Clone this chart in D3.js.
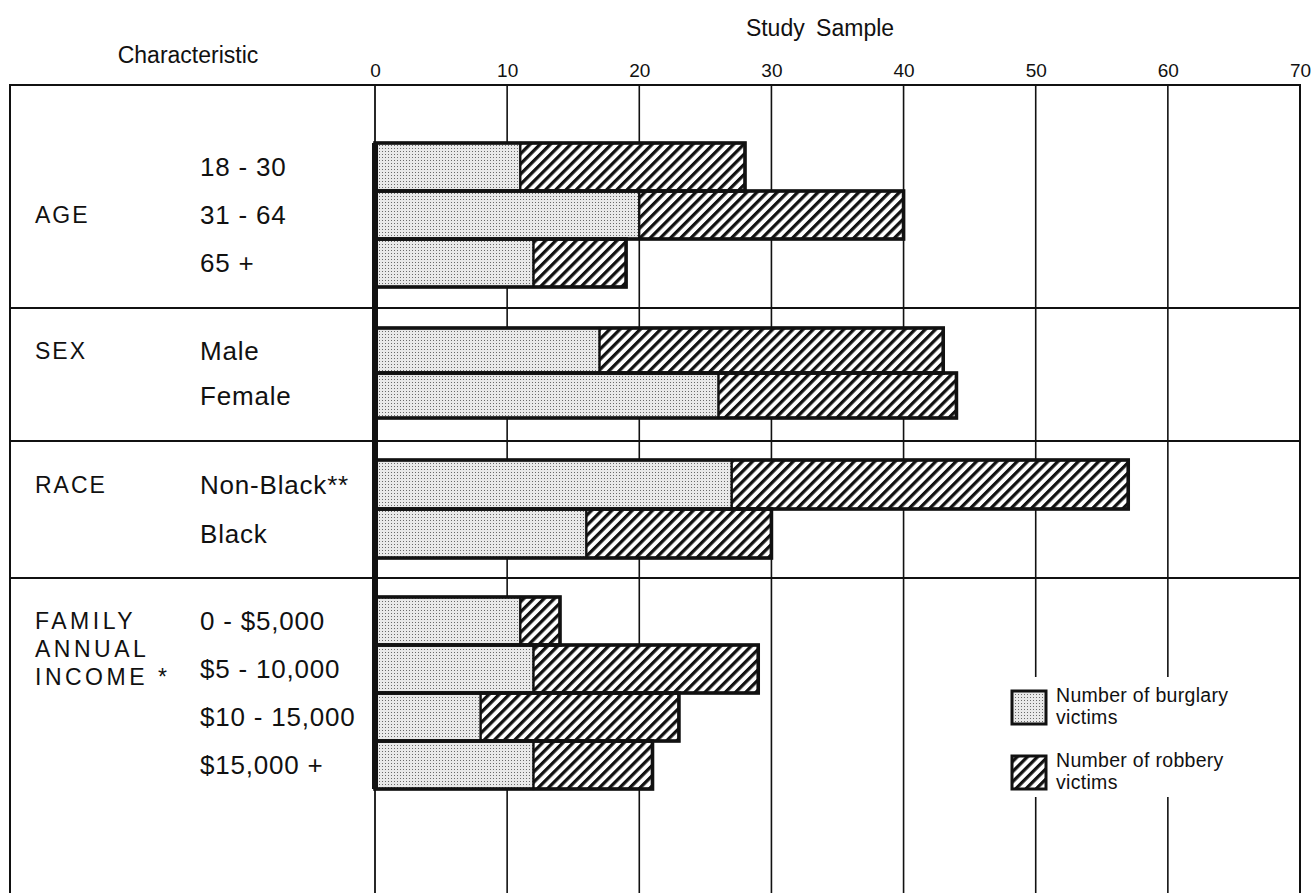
<!DOCTYPE html>
<html><head><meta charset="utf-8">
<script src="https://cdn.jsdelivr.net/npm/d3@7"></script>
<style>
html,body{margin:0;padding:0;background:#fff;}
svg{display:block;font-family:"Liberation Sans",Arial,sans-serif;}
</style></head>
<body>
<svg id="chart" width="1313" height="893"></svg>
<script>
// ---- data ----
const groups = ["AGE", "SEX", "RACE", "FAMILY|ANNUAL|INCOME *"];
const categories = ["18 - 30", "31 - 64", "65 +", "Male", "Female", "Non-Black**", "Black",
  "0 - $5,000", "$5 - 10,000", "$10 - 15,000", "$15,000 +"];
const categoryGroup = [0, 0, 0, 1, 1, 2, 2, 3, 3, 3, 3];
const burglary = [11, 20, 12, 17, 26, 27, 16, 11, 12, 8, 12];
const robbery  = [17, 20, 7, 26, 18, 30, 14, 3, 17, 15, 9];
const xTicks = [0, 10, 20, 30, 40, 50, 60, 70];
const seriesNames = ["Number of burglary|victims", "Number of robbery|victims"];

// ---- layout ----
const frameL = 10, frameT = 85, frameB = 900;
const groupRanges = [[143, 287], [328, 418], [460, 558], [597, 789]];
const separators = [308, 441, 578];
const groupLabelAnchor = [1, 0, 0, 0];

const svg = d3.select("#chart");
const x = d3.scaleLinear().domain([0, 70]).range([375, 1300]);

const defs = svg.append("defs");
const stip = defs.append("pattern").attr("id", "stipple").attr("patternUnits", "userSpaceOnUse")
  .attr("width", 3).attr("height", 3);
stip.append("rect").attr("width", 3).attr("height", 3).attr("fill", "#e9e9e9");
stip.append("rect").attr("x", 1).attr("y", 1).attr("width", 1).attr("height", 1).attr("fill", "#6a6a6a");

const hatch = defs.append("pattern").attr("id", "hatch").attr("patternUnits", "userSpaceOnUse")
  .attr("width", 7.2).attr("height", 7.2).attr("patternTransform", "rotate(45)");
hatch.append("rect").attr("width", 7.2).attr("height", 7.2).attr("fill", "#fff");
hatch.append("line").attr("x1", 1.6).attr("x2", 1.6).attr("y1", 0).attr("y2", 7.2)
  .attr("stroke", "#111").attr("stroke-width", 3.3);

// frame
svg.append("path")
  .attr("d", `M${frameL},${frameB} V${frameT} H${x(70)} V${frameB}`)
  .attr("fill", "none").attr("stroke", "#111").attr("stroke-width", 2);

// vertical grid lines
svg.append("g").selectAll("line").data(xTicks.filter(t => t > 0 && t < 70)).join("line")
  .attr("x1", d => x(d)).attr("x2", d => x(d)).attr("y1", frameT).attr("y2", frameB)
  .attr("stroke", "#111").attr("stroke-width", 1.6);
svg.append("line").attr("x1", x(0)).attr("x2", x(0)).attr("y1", frameT).attr("y2", frameB)
  .attr("stroke", "#111").attr("stroke-width", 1.8);

// separators
svg.append("g").selectAll("line").data(separators).join("line")
  .attr("x1", frameL).attr("x2", x(70)).attr("y1", d => d).attr("y2", d => d)
  .attr("stroke", "#111").attr("stroke-width", 2);

// top axis tick labels
const axis = d3.axisTop(x).tickValues(xTicks).tickSize(0).tickPadding(0);
const ag = svg.append("g").attr("transform", `translate(0,${frameT - 8})`).call(axis);
ag.select(".domain").remove();
ag.selectAll("text").attr("font-size", 19).attr("fill", "#111")
  .attr("font-family", "Liberation Sans, Arial, sans-serif").attr("dy", 0);

// headers
svg.append("text").attr("x", 188).attr("y", 63).attr("text-anchor", "middle")
  .attr("font-size", 23).attr("fill", "#111").text("Characteristic");
svg.append("text").attr("x", 820).attr("y", 36).attr("text-anchor", "middle")
  .attr("font-size", 23).attr("word-spacing", 5).attr("fill", "#111").text("Study Sample");

// band scales per group
const bands = groups.map((g, gi) => d3.scaleBand()
  .domain(categories.filter((c, i) => categoryGroup[i] === gi))
  .range(groupRanges[gi]).padding(0));
const yOf = i => bands[categoryGroup[i]](categories[i]);
const hOf = i => bands[categoryGroup[i]].bandwidth();

const rows = categories.map((c, i) => ({c, i, b: burglary[i], r: robbery[i]}));

// white legend background interrupting grid
const legX = 1012, legY = [691, 756], boxW = 34, boxH = 33;
svg.append("rect").attr("x", 1000).attr("y", 677).attr("width", 258).attr("height", 120).attr("fill", "#fff");

// bars
const bg = svg.append("g");
bg.selectAll("rect.burg").data(rows).join("rect").attr("class", "burg")
  .attr("x", d => x(0)).attr("y", d => yOf(d.i)).attr("width", d => x(d.b) - x(0)).attr("height", d => hOf(d.i))
  .attr("fill", "url(#stipple)").attr("stroke", "#111").attr("stroke-width", 2.2);
bg.selectAll("rect.rob").data(rows).join("rect").attr("class", "rob")
  .attr("x", d => x(d.b)).attr("y", d => yOf(d.i)).attr("width", d => x(d.b + d.r) - x(d.b)).attr("height", d => hOf(d.i))
  .attr("fill", "url(#hatch)").attr("stroke", "#111").attr("stroke-width", 2.2);
bg.selectAll("rect.out").data(rows).join("rect").attr("class", "out")
  .attr("x", d => x(0)).attr("y", d => yOf(d.i)).attr("width", d => x(d.b + d.r) - x(0)).attr("height", d => hOf(d.i))
  .attr("fill", "none").attr("stroke", "#111").attr("stroke-width", 3.6);

// thick zero line across bars
svg.append("line").attr("x1", x(0)).attr("x2", x(0))
  .attr("y1", groupRanges[0][0]).attr("y2", groupRanges[3][1])
  .attr("stroke", "#111").attr("stroke-width", 6);

// category labels
svg.append("g").selectAll("text").data(rows).join("text")
  .attr("x", 200).attr("y", d => yOf(d.i) + hOf(d.i) / 2).attr("dy", "0.36em")
  .attr("font-size", 26).attr("letter-spacing", 0.8).attr("fill", "#111").text(d => d.c);

// group labels
groups.forEach((g, gi) => {
  const members = categories.filter((c, i) => categoryGroup[i] === gi);
  const anchorCat = members[groupLabelAnchor[gi]];
  const cy = bands[gi](anchorCat) + bands[gi].bandwidth() / 2;
  const lines = g.split("|");
  const t = svg.append("text").attr("x", 35).attr("font-size", 23)
    .attr("letter-spacing", lines.length > 1 ? 3.5 : 2).attr("fill", "#111");
  lines.forEach((ln, li) => {
    t.append("tspan").attr("x", 35).attr("y", cy + li * 28).attr("dy", "0.36em").text(ln);
  });
});

// legend
const fills = ["url(#stipple)", "url(#hatch)"];
seriesNames.forEach((s, si) => {
  svg.append("rect").attr("x", legX).attr("y", legY[si]).attr("width", boxW).attr("height", boxH)
    .attr("fill", fills[si]).attr("stroke", "#111").attr("stroke-width", 3);
  s.split("|").forEach((ln, li) => {
    svg.append("text").attr("font-size", 19.5).attr("letter-spacing", 0.3).attr("fill", "#111")
      .attr("x", legX + 44).attr("y", legY[si] + 11 + li * 22).text(ln);
  });
});
</script>
</body></html>
